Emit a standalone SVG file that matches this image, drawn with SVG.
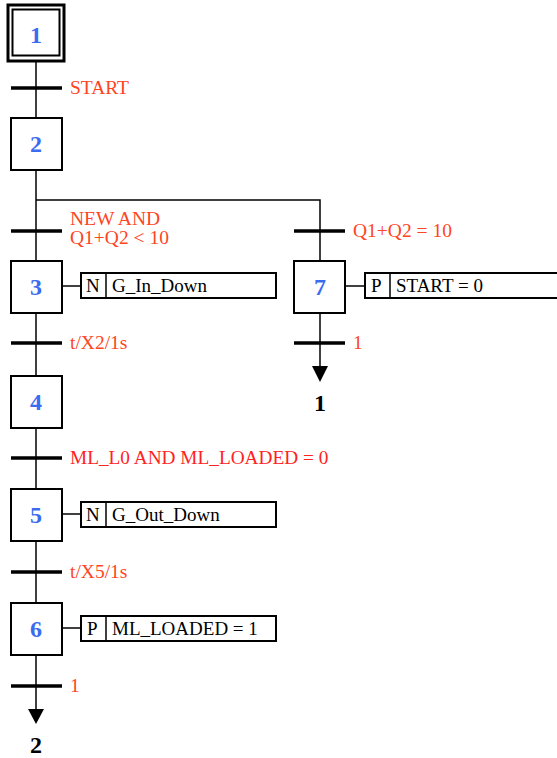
<svg xmlns="http://www.w3.org/2000/svg" width="557" height="758" viewBox="0 0 557 758">
<style>
.step{fill:#fff;stroke:#000;stroke-width:2}
.num{font-family:"Liberation Serif",serif;font-weight:bold;font-size:24px;fill:#3b6cf0;text-anchor:middle}
.tb{stroke:#000;stroke-width:3.5}
.ln{stroke:#000;stroke-width:1.5;fill:none}
.cond{font-family:"Liberation Serif",serif;font-size:19.5px;fill:#ff4422}
.cond2{font-family:"Liberation Serif",serif;font-size:19.3px;fill:#ff2222}
.act{fill:#fff;stroke:#000;stroke-width:2}
.at{font-family:"Liberation Serif",serif;font-size:19px;fill:#000}
.jmp{font-family:"Liberation Serif",serif;font-weight:bold;font-size:24px;fill:#000;text-anchor:middle}
</style>
<rect width="557" height="758" fill="#fff"/>
<g id="connectors">
<line class="ln" x1="36" y1="62" x2="36" y2="118"/>
<line class="ln" x1="36" y1="170" x2="36" y2="261"/>
<polyline class="ln" points="36,200 320,200 320,261"/>
<line class="ln" x1="36" y1="313" x2="36" y2="376"/>
<line class="ln" x1="36" y1="428" x2="36" y2="489"/>
<line class="ln" x1="36" y1="541" x2="36" y2="603"/>
<line class="ln" x1="36" y1="655" x2="36" y2="712"/>
<polygon points="28,709 44,709 36,724" fill="#000"/>
<line class="ln" x1="320" y1="313" x2="320" y2="369"/>
<polygon points="312,366 328,366 320,382" fill="#000"/>
<line class="ln" x1="62" y1="286" x2="81" y2="286"/>
<line class="ln" x1="62" y1="514" x2="81" y2="514"/>
<line class="ln" x1="62" y1="628" x2="81" y2="628"/>
<line class="ln" x1="345" y1="286" x2="365" y2="286"/>
</g>
<g id="t1"><line class="tb" x1="11" y1="88" x2="62" y2="88"/><text class="cond" x="70" y="94">START</text></g>
<g id="t2"><line class="tb" x1="11" y1="231" x2="62" y2="231"/><text class="cond" x="70" y="225">NEW AND</text><text class="cond" x="70" y="244">Q1+Q2 &lt; 10</text></g>
<g id="t7"><line class="tb" x1="294" y1="231" x2="345" y2="231"/><text class="cond" x="353" y="237">Q1+Q2 = 10</text></g>
<g id="t3"><line class="tb" x1="11" y1="343" x2="62" y2="343"/><text class="cond" x="70" y="349">t/X2/1s</text></g>
<g id="t7b"><line class="tb" x1="294" y1="343" x2="345" y2="343"/><text class="cond" x="353" y="349">1</text></g>
<g id="t4"><line class="tb" x1="11" y1="458" x2="62" y2="458"/><text class="cond2" x="70" y="464">ML_L0 AND ML_LOADED = 0</text></g>
<g id="t5"><line class="tb" x1="11" y1="572" x2="62" y2="572"/><text class="cond" x="70" y="578">t/X5/1s</text></g>
<g id="t6"><line class="tb" x1="11" y1="686" x2="62" y2="686"/><text class="cond" x="70" y="692">1</text></g>
<g id="step1">
<rect x="8" y="5" width="56" height="56" fill="#fff" stroke="#000" stroke-width="3"/>
<rect x="12.5" y="9.5" width="47" height="46" fill="#fff" stroke="#000" stroke-width="2"/>
<text class="num" x="36" y="43">1</text>
</g>
<g id="step2"><rect class="step" x="11" y="118" width="51" height="52"/><text class="num" x="36" y="152">2</text></g>
<g id="step3"><rect class="step" x="11" y="261" width="51" height="52"/><text class="num" x="36" y="295">3</text></g>
<g id="step4"><rect class="step" x="11" y="376" width="51" height="52"/><text class="num" x="36" y="410">4</text></g>
<g id="step5"><rect class="step" x="11" y="489" width="51" height="52"/><text class="num" x="36" y="523">5</text></g>
<g id="step6"><rect class="step" x="11" y="603" width="51" height="52"/><text class="num" x="36" y="637">6</text></g>
<g id="step7"><rect class="step" x="294" y="261" width="51" height="52"/><text class="num" x="320" y="295">7</text></g>
<g id="action3"><rect class="act" x="81" y="273" width="195" height="25"/><line class="ln" x1="106" y1="273" x2="106" y2="298" stroke-width="2"/><text class="at" x="86" y="292">N</text><text class="at" x="112" y="292">G_In_Down</text></g>
<g id="action5"><rect class="act" x="81" y="502" width="195" height="25"/><line class="ln" x1="106" y1="502" x2="106" y2="527" stroke-width="2"/><text class="at" x="86" y="521">N</text><text class="at" x="112" y="521">G_Out_Down</text></g>
<g id="action6"><rect class="act" x="81" y="616" width="195" height="25"/><line class="ln" x1="106" y1="616" x2="106" y2="641" stroke-width="2"/><text class="at" x="87" y="635">P</text><text class="at" x="112" y="635">ML_LOADED = 1</text></g>
<g id="action7"><rect class="act" x="365" y="273" width="200" height="25"/><line class="ln" x1="390" y1="273" x2="390" y2="298" stroke-width="2"/><text class="at" x="371" y="292">P</text><text class="at" x="396" y="292">START = 0</text></g>
<g id="jump1"><text class="jmp" x="320" y="411">1</text></g>
<g id="jump2"><text class="jmp" x="36" y="753">2</text></g>
</svg>
